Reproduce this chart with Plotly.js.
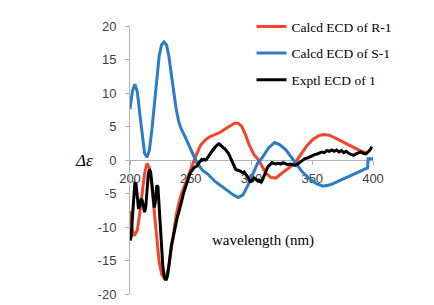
<!DOCTYPE html>
<html><head><meta charset="utf-8">
<script src="https://cdn.plot.ly/plotly-3.0.1.min.js"></script>
<style>html,body{margin:0;padding:0;background:#fff;}#chart{width:434px;height:305px;}</style>
</head><body><div id="chart"></div>
<script>
// Calcd ECD of R-1
const xR = [200,202,203.5,206,208,210,212,214,216,218,220,222,224,226,228,230,232,234,236,238,240,242,245,248,250,252,254,258,262,266,270,274,278,282,286,289,292,295,298,302,305,308,312,316,320,324,328,332,336,340,345,350,355,359,364,370,376,382,388,392,396];
const yR = [-7.6,-10.5,-11.3,-10.5,-8.0,-5.0,-2.0,-0.5,-1.2,-4.0,-8.0,-12.0,-15.2,-17.0,-17.6,-17.3,-15.8,-13.2,-10.5,-8.3,-6.6,-5.3,-3.8,-2.4,-1.2,-0.3,0.5,2.2,3.0,3.5,3.8,4.1,4.6,5.1,5.5,5.5,5.0,3.8,2.3,0.8,0.2,-0.7,-2.0,-2.6,-2.7,-2.1,-1.6,-1.0,-0.4,0.6,2.0,3.0,3.6,3.8,3.7,3.2,2.6,2.0,1.5,1.2,1.0];
// Calcd ECD of S-1
const xS = [200,202,204,206,208,210,212,214,216,218,220,222,224,226,228,230,232,234,236,238,240,242,245,248,251,253,255,260,264,270,275,280,285,289,293,297,301,305,309,314,319,323,328,332,336,341,347,353,359,365,372,380,388,394,395.5,396,400];
const yS = [7.6,10.3,11.3,10.2,7.0,3.5,1.0,0.4,1.5,4.5,8.5,12.5,15.5,17.2,17.6,17.2,15.5,12.8,10.0,7.6,5.8,4.7,3.6,2.4,1.0,0.2,-0.4,-1.6,-2.1,-3.2,-3.9,-4.5,-5.2,-5.6,-5.2,-3.8,-2.0,-0.5,0.4,1.8,2.6,2.3,1.6,0.6,-0.5,-1.6,-2.7,-3.5,-3.9,-3.7,-3.1,-2.4,-1.8,-1.3,-1.2,0.2,0.2];
// Exptl ECD of 1
const xE = [200,201,202,203,204,205,206,207,208,209,210,211,212,213,214,215,216,217,218,219,220,221,222,223,224,225,226,227,228,229,230,231,232,233,234,235,236,237,238,239,240,241,242,243,244,245,246,247,248,249,250,251,252,253,254,255,256,257,258,259,260,261,262,263,264,265,266,267,268,269,270,271,272,273,274,275,276,277,278,279,280,281,282,283,284,285,286,287,288,289,290,291,292,293,294,295,296,297,298,299,300,301,302,303,304,305,306,307,308,309,310,311,312,313,314,315,316,317,318,320,322,324,326,328,330,332,334,336,338,340,342,344,346,348,350,352,354,356,358,360,362,364,366,368,370,372,374,376,378,380,382,384,386,388,390,392,394,396,398,399];
const yE = [-12.0,-11.5,-8.5,-5.0,-3.5,-3.6,-6.0,-7.3,-6.8,-5.8,-6.0,-6.9,-7.8,-7.0,-4.5,-2.2,-1.4,-1.8,-3.5,-5.8,-7.1,-6.0,-3.8,-4.0,-7.0,-10.5,-13.5,-15.8,-17.2,-17.8,-17.8,-17.2,-15.8,-14.0,-12.8,-12.0,-11.0,-10.2,-9.3,-8.5,-7.9,-7.3,-6.7,-5.8,-5.0,-4.4,-3.8,-3.2,-2.6,-2.2,-1.8,-1.5,-1.3,-1.1,-1.0,-0.9,-0.6,-0.3,0.0,0.1,0.0,0.1,0.0,0.1,0.4,0.6,0.9,1.2,1.5,1.7,1.9,2.1,2.3,2.4,2.3,2.1,1.9,1.8,1.7,1.5,1.3,1.0,0.6,0.2,-0.3,-0.8,-1.1,-1.4,-1.5,-1.5,-1.6,-1.7,-1.8,-1.9,-1.8,-2.0,-2.3,-2.6,-3.0,-3.2,-3.1,-2.9,-2.7,-2.8,-3.0,-3.1,-3.0,-3.2,-3.3,-3.0,-2.5,-2.0,-1.6,-1.2,-0.9,-0.7,-0.5,-0.4,-0.5,-0.6,-0.5,-0.6,-0.4,-0.6,-0.7,-0.6,-0.7,-0.8,-0.6,-0.3,0.0,0.2,0.3,0.5,0.6,0.8,0.9,1.0,1.2,1.1,1.4,1.3,1.5,1.3,1.5,1.2,1.4,1.1,1.3,1.0,0.9,0.7,0.9,1.0,1.2,1.0,0.9,1.2,1.6,2.0];
const xTicks = [200,250,300,350,400];
const yTicks = [-20,-15,-10,-5,0,5,10,15,20];
const names = ['Calcd ECD of R-1','Calcd ECD of S-1','Exptl ECD of 1'];

const serif = "'Liberation Serif', 'Times New Roman', 'DejaVu Serif', serif";
const sans = "'Liberation Sans', Arial, sans-serif";
const traces = [
  {x:xR,y:yR,name:names[0],mode:'lines',line:{color:'#F2462B',width:3},legendgroup:'a'},
  {x:xS,y:yS,name:names[1],mode:'lines',line:{color:'#2C7BC8',width:3},legendgroup:'b'},
  {x:xE,y:yE,name:names[2],mode:'lines',line:{color:'#000000',width:3},legendgroup:'c'}
];
const layout = {
  width:434,height:305,
  margin:{l:130,r:61,t:23,b:11},
  paper_bgcolor:'#fff',plot_bgcolor:'#fff',
  showlegend:true,
  legend:{x:0.50,y:1.055,xanchor:'left',yanchor:'top',traceorder:'grouped',tracegroupgap:6,
    font:{family:serif,size:13.5,color:'#000'},bgcolor:'rgba(0,0,0,0)'},
  xaxis:{range:[200,400],tickvals:xTicks,ticktext:xTicks.map(String),anchor:'free',position:0.5,
    showline:true,linecolor:'#b3b3b3',linewidth:1,ticks:'outside',ticklen:4,tickcolor:'#b3b3b3',
    showgrid:false,zeroline:false,ticklabelstandoff:2,layer:'below traces',
    tickfont:{family:sans,size:13,color:'#404040'}},
  yaxis:{range:[-20,20],tickvals:yTicks,ticktext:yTicks.map(String),showline:true,linecolor:'#b3b3b3',linewidth:1,
    ticks:'outside',ticklen:4,tickcolor:'#b3b3b3',showgrid:false,zeroline:false,ticklabelstandoff:6,
    tickfont:{family:sans,size:13,color:'#404040'}},
  annotations:[
    {xref:'paper',yref:'paper',x:(84-130)/243,y:0.5,text:'<i>Δε</i>',showarrow:false,xanchor:'center',yanchor:'middle',
     font:{family:serif,size:17,color:'#000'}},
    {xref:'paper',yref:'paper',x:(262.5-130)/243,y:(294-240)/271,text:'wavelength (nm)',showarrow:false,xanchor:'center',yanchor:'middle',
     font:{family:serif,size:15,color:'#000'}}
  ]
};
Plotly.newPlot('chart',traces,layout,{staticPlot:true,displayModeBar:false});
</script></body></html>
